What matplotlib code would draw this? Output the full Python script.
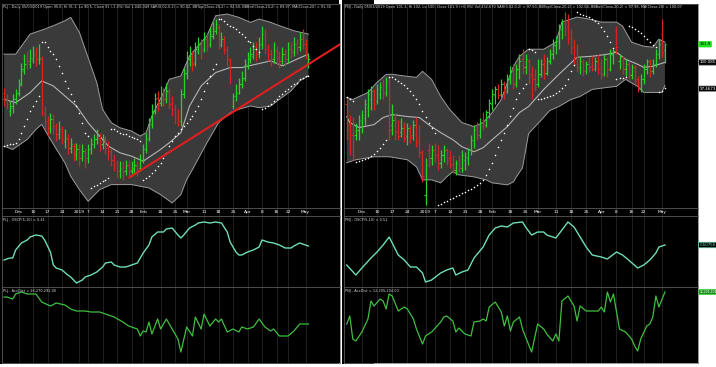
import numpy as np
import pandas as pd
import matplotlib
matplotlib.use("Agg")
import matplotlib.pyplot as plt
from matplotlib.patches import Rectangle
from matplotlib.transforms import blended_transform_factory

plt.rcParams['font.family'] = ['Liberation Sans Narrow', 'DejaVu Sans']

# trading days 26 Nov 2018 - 3 May 2019 (exchange holidays removed)
holidays = ['2019-01-01', '2019-02-04', '2019-02-05', '2019-02-06', '2019-02-07',
            '2019-02-08', '2019-04-15', '2019-04-30', '2019-05-01']
dates = pd.bdate_range('2018-11-26', '2019-05-03')
dates = dates[~dates.isin(pd.to_datetime(holidays))]

# ---------------- PLJ (left chart) ----------------
plj_open = [89.0, 88.6, 87.9, 88.2, 88.6, 89.0, 89.6, 90.3, 91.1, 90.7,
            91.0, 91.4, 91.0, 91.0, 87.8, 87.3, 86.9, 87.4, 86.9, 86.5,
            86.7, 86.1, 86.2, 85.7, 85.8, 85.3, 85.6, 85.1, 85.4, 85.1,
            85.6, 85.9, 86.2, 86.3, 85.9, 86.1, 85.8, 85.4, 85.0, 84.8,
            84.3, 84.6, 84.3, 84.7, 84.3, 84.4, 84.6, 84.5, 85.0, 85.6,
            86.3, 87.1, 87.9, 88.7, 88.4, 89.0, 88.6, 89.0, 88.4, 88.0,
            87.6, 87.3, 88.9, 90.2, 91.0, 91.2, 90.8, 91.5, 91.9, 91.6,
            92.2, 91.9, 92.4, 92.7, 92.9, 91.9, 92.1, 91.5, 90.9, 88.2,
            88.8, 89.0, 89.5, 89.9, 90.6, 91.0, 91.2, 91.7, 91.3, 91.9,
            92.4, 91.6, 91.3, 91.0, 91.5, 91.2, 90.9, 91.3, 91.0, 91.6,
            91.4, 91.9, 91.7, 92.2, 91.9, 90.8]
plj_high = [89.3, 88.9, 88.5, 88.9, 89.2, 89.8, 90.8, 91.3, 91.5, 91.6,
            91.8, 91.7, 91.9, 91.2, 88.2, 87.6, 87.8, 87.7, 87.2, 87.3,
            87.0, 86.8, 86.5, 86.3, 86.0, 86.0, 85.9, 85.9, 85.7, 85.9,
            86.3, 86.5, 86.8, 86.6, 86.5, 86.4, 86.1, 85.7, 85.3, 85.0,
            84.9, 84.9, 85.0, 85.0, 84.9, 85.1, 84.9, 85.3, 85.9, 86.6,
            87.5, 88.3, 89.0, 89.1, 89.4, 89.3, 89.6, 89.3, 88.8, 88.3,
            88.0, 89.2, 90.5, 91.5, 91.8, 91.5, 92.0, 92.3, 92.2, 92.6,
            92.5, 92.9, 93.2, 93.4, 93.1, 92.6, 92.4, 91.8, 91.1, 89.0,
            89.5, 89.9, 90.3, 91.0, 91.4, 91.7, 92.0, 92.0, 92.3, 93.0,
            92.8, 91.9, 91.6, 92.0, 91.8, 91.5, 91.7, 91.6, 92.0, 92.0,
            92.3, 92.2, 92.6, 92.8, 92.2, 91.3]
plj_low = [88.2, 88.0, 87.6, 87.8, 88.3, 88.8, 89.4, 90.1, 90.4, 90.5,
           90.8, 90.6, 90.7, 87.6, 86.8, 86.4, 86.6, 86.5, 86.1, 86.2,
           85.9, 85.7, 85.3, 85.4, 84.9, 85.0, 84.6, 84.9, 84.5, 84.8,
           85.3, 85.7, 85.9, 85.5, 85.6, 85.3, 85.0, 84.6, 84.3, 83.9,
           83.9, 83.8, 84.1, 84.0, 84.0, 84.2, 84.0, 84.3, 84.8, 85.4,
           86.1, 86.9, 87.7, 87.9, 88.2, 88.2, 88.4, 88.0, 87.6, 87.1,
           87.0, 87.0, 88.7, 89.8, 90.6, 90.3, 90.6, 91.3, 91.0, 91.4,
           91.5, 91.7, 92.2, 92.5, 91.6, 91.7, 91.3, 90.6, 89.5, 88.0,
           88.5, 88.9, 89.3, 89.7, 90.4, 90.8, 91.0, 90.9, 91.1, 91.6,
           91.3, 90.9, 90.6, 90.8, 90.7, 90.5, 90.7, 90.6, 90.8, 91.1,
           91.2, 91.3, 91.5, 91.6, 91.0, 90.5]
plj_close = [88.6, 88.3, 88.1, 88.7, 88.9, 89.5, 90.4, 90.7, 90.9, 91.1,
             91.3, 91.0, 91.1, 87.9, 87.2, 86.9, 87.4, 87.0, 86.5, 86.8,
             86.2, 86.3, 85.7, 85.9, 85.3, 85.6, 85.1, 85.5, 85.0, 85.6,
             85.9, 86.2, 86.4, 85.9, 86.2, 85.7, 85.5, 85.0, 84.7, 84.4,
             84.5, 84.3, 84.7, 84.4, 84.5, 84.7, 84.4, 85.0, 85.6, 86.2,
             87.1, 87.9, 88.6, 88.3, 88.9, 88.6, 89.1, 88.3, 88.0, 87.5,
             87.3, 88.9, 90.1, 91.0, 91.3, 90.7, 91.6, 91.9, 91.5, 92.2,
             91.9, 92.5, 92.8, 93.1, 91.9, 92.2, 91.6, 91.0, 89.8, 88.8,
             89.0, 89.5, 89.8, 90.7, 91.0, 91.3, 91.6, 91.3, 91.9, 92.5,
             91.6, 91.3, 91.0, 91.6, 91.1, 90.9, 91.3, 91.0, 91.6, 91.5,
             91.9, 91.7, 92.2, 91.9, 91.3, 91.0]
plj_sar = [85.8, 85.85, 85.9, 85.95, 86.0, 86.2, 86.6, 87.0, 87.4, 87.9, 88.2, 88.5, 88.8,
           92.0, 92.0, 91.7, 91.5, 91.3, 91.0, 90.6, 90.2, 89.7, 89.3, 88.9, 88.5, 88.2,
           87.8, 87.2, 86.6, 86.4,
           83.3, 83.4, 83.5, 83.6, 83.7, 83.8, 83.9,
           86.8, 86.8, 86.7, 86.6, 86.55, 86.5, 86.4, 86.35, 86.3, 86.2, 86.1,
           83.8, 83.9, 84.0, 84.2, 84.4, 84.6, 84.8, 85.1, 85.4, 85.8, 86.1, 86.4, 86.6,
           86.8, 87.0, 87.2, 87.4, 87.6, 87.9, 88.2, 88.6, 89.1, 89.6, 90.0, 90.4, 90.7,
           93.4, 93.4, 93.3, 93.1, 93.0, 92.9, 92.8, 92.6, 92.5, 92.3, 92.1, 92.0, 91.8,
           91.6, 91.4,
           88.0, 88.1, 88.2, 88.3, 88.5, 88.6, 88.8, 88.9, 89.1, 89.2, 89.4, 89.5, 89.6,
           89.8, 89.9, 90.0, 90.0]
plj_bbtop_idx = [0, 4, 9, 14, 17, 21, 23, 26, 28, 32, 34, 37, 40, 44, 47, 49, 51, 55, 57, 61,
                 64, 70, 73, 77, 81, 85, 88, 92, 95, 100, 105]
plj_bbtop = [91.3, 91.3, 92.5, 92.8, 93.0, 93.3, 93.5, 92.6, 91.6, 89.6,
             88.0, 87.2, 86.9, 86.7, 86.4, 86.6, 87.6, 89.0, 89.8, 90.0,
             91.2, 92.4, 93.6, 93.7, 93.5, 93.2, 93.4, 93.2, 93.0, 92.7, 92.5]
plj_ma_idx = [0, 4, 9, 13, 17, 21, 25, 29, 33, 36, 40, 44, 48, 54, 57, 61, 64, 68, 73, 78,
              82, 87, 92, 96, 101, 105]
plj_ma = [88.6, 88.4, 89.0, 89.7, 89.4, 88.8, 88.2, 87.2, 86.4, 85.8,
          85.4, 85.2, 84.9, 85.6, 86.0, 86.6, 88.2, 89.4, 90.2, 90.5,
          90.5, 90.7, 90.9, 90.6, 91.0, 91.3]
plj_bbbot_idx = [0, 3, 8, 11, 13, 16, 21, 23, 26, 29, 33, 37, 44, 50, 54, 58, 61, 63, 65, 70,
                 72, 74, 78, 81, 85, 88, 92, 95, 99, 102, 105]
plj_bbbot = [85.8, 85.6, 86.2, 86.8, 87.1, 86.2, 84.8, 84.0, 83.2, 82.5,
             83.2, 83.5, 83.5, 83.3, 82.9, 82.4, 82.9, 83.8, 84.4, 86.0,
             86.6, 87.2, 87.8, 88.0, 88.2, 88.1, 88.2, 88.6, 89.1, 89.7, 90.0]
plj_osc_idx = [0, 2, 3, 4, 6, 8, 9, 11, 13, 14, 16, 17, 18, 20, 22, 23, 24, 25, 27, 28,
               30, 32, 34, 35, 37, 38, 40, 42, 44, 46, 48, 50, 51, 53, 55, 56, 58, 60, 61, 62,
               64, 66, 67, 69, 71, 73, 75, 77, 78, 80, 81, 82, 84, 86, 88, 89, 91, 93, 95, 97,
               99, 100, 102, 104, 105]
plj_osc = [-0.29, -0.19, -0.19, 0.21, 0.56, 0.71, 0.86, 0.96, 0.91, 0.71,
           0.11, -0.54, -0.69, -0.79, -1.04, -1.14, -1.29, -1.44, -1.29, -1.14,
           -1.04, -0.89, -0.64, -0.44, -0.39, -0.54, -0.64, -0.64, -0.54, -0.44,
           0.06, 0.46, 0.86, 1.11, 1.11, 1.26, 1.31, 0.96, 0.81, 0.96,
           1.31, 1.46, 1.56, 1.61, 1.56, 1.61, 1.56, 1.11, 0.61, 0.11,
           -0.04, -0.04, 0.11, 0.21, 0.36, 0.71, 0.61, 0.56, 0.46, 0.31,
           0.31, 0.41, 0.56, 0.46, 0.41]
# accumulation / distribution, millions
plj_ad_idx = [0, 1, 3, 4, 6, 8, 10, 11, 13, 16, 18, 21, 23, 25, 28, 30, 33, 35, 38, 41,
              43, 46, 47, 48, 49, 50, 51, 53, 54, 56, 58, 60, 61, 63, 65, 66, 68, 69, 71, 73,
              74, 75, 77, 79, 81, 82, 84, 86, 88, 90, 92, 93, 95, 98, 100, 102, 105]
plj_ad = [31.67, 31.67, 31.27, 32.27, 32.67, 32.27, 32.27, 32.27, 30.67, 29.87,
          30.47, 30.07, 29.27, 28.87, 28.87, 28.67, 28.67, 28.27, 27.67, 26.67,
          25.87, 25.27, 23.87, 24.87, 24.67, 26.67, 24.27, 27.27, 25.27, 27.27,
          25.27, 23.27, 20.67, 25.67, 23.87, 27.67, 25.27, 28.27, 25.87, 27.27,
          26.67, 27.27, 24.67, 25.27, 24.67, 25.67, 25.27, 25.67, 27.27, 25.67,
          24.87, 25.27, 23.87, 23.87, 24.87, 26.27, 26.27]
plj_trend_idx = [43, 116]
plj_trend = [83.9, 91.9]

# ---------------- PNJ (right chart) ----------------
pnj_open = [95.9, 93.9, 92.9, 92.9, 93.4, 94.2, 94.6, 95.6, 96.4, 97.2,
            96.2, 96.9, 97.8, 97.1, 98.0, 93.9, 94.6, 93.4, 93.2, 93.6,
            92.8, 93.4, 92.9, 93.9, 92.4, 91.2, 86.9, 91.4, 90.6, 91.4,
            90.9, 90.1, 90.9, 91.4, 90.6, 90.0, 89.4, 90.4, 89.6, 90.4,
            90.6, 91.4, 92.4, 93.6, 92.9, 94.4, 93.9, 95.2, 95.9, 96.8,
            97.4, 96.9, 98.0, 97.2, 98.4, 99.4, 98.0, 99.4, 100.4, 99.6,
            100.2, 98.9, 98.4, 97.9, 98.9, 99.9, 99.0, 100.2, 100.9, 101.8,
            102.2, 103.4, 104.2, 103.6, 102.6, 101.6, 100.6, 99.6, 100.2, 99.2,
            100.1, 99.8, 99.4, 100.2, 99.6, 98.9, 100.4, 99.4, 100.8, 103.4,
            100.2, 100.6, 99.4, 99.9, 98.8, 99.6, 98.4, 97.4, 98.4, 99.4,
            100.2, 99.2, 99.9, 100.9, 102.9, 101.3]
pnj_high = [96.4, 94.9, 94.7, 94.1, 94.9, 95.4, 96.4, 97.4, 97.7, 97.4,
            97.9, 98.1, 98.4, 98.6, 98.6, 95.9, 95.1, 94.4, 94.6, 94.2,
            94.1, 93.9, 94.4, 94.7, 93.9, 91.4, 90.6, 92.1, 91.9, 92.1,
            91.9, 91.4, 91.9, 91.6, 91.4, 90.9, 90.4, 90.9, 91.4, 91.2,
            91.6, 92.9, 93.9, 94.2, 94.6, 95.2, 95.4, 96.4, 97.4, 97.7,
            97.9, 98.4, 98.2, 98.9, 99.7, 99.9, 99.9, 100.9, 101.4, 100.9,
            100.4, 99.7, 99.4, 100.4, 100.4, 100.9, 100.6, 101.4, 102.4, 102.7,
            103.9, 104.4, 105.1, 104.9, 103.4, 102.4, 101.9, 100.6, 100.4, 100.2,
            100.6, 100.7, 100.6, 100.9, 100.4, 100.9, 100.6, 101.4, 101.4, 103.7,
            100.9, 100.7, 100.4, 100.2, 99.9, 99.8, 98.7, 98.9, 99.9, 100.4,
            100.4, 100.4, 101.4, 102.4, 104.4, 102.0]
pnj_low = [92.4, 90.9, 90.4, 92.4, 92.4, 93.1, 93.9, 94.7, 95.4, 95.4,
           95.9, 96.4, 96.4, 96.7, 92.4, 92.9, 92.4, 92.4, 92.7, 92.2,
           91.9, 92.1, 92.4, 91.7, 90.7, 88.2, 85.9, 89.7, 89.9, 90.2,
           89.4, 89.6, 90.2, 89.9, 89.6, 89.1, 88.9, 89.2, 89.2, 89.4,
           89.9, 90.9, 91.6, 92.4, 92.6, 93.4, 93.7, 94.6, 95.4, 95.9,
           96.4, 96.6, 96.4, 97.0, 97.9, 97.4, 97.6, 98.4, 98.9, 98.9,
           97.9, 96.4, 97.2, 97.6, 98.6, 98.4, 98.8, 99.9, 100.4, 100.9,
           101.4, 102.4, 102.7, 101.9, 100.9, 99.7, 99.1, 98.9, 98.7, 98.9,
           99.1, 99.2, 99.2, 98.9, 98.4, 98.7, 98.6, 99.2, 99.9, 100.9,
           99.4, 98.9, 98.7, 98.4, 98.4, 97.7, 97.1, 97.1, 97.9, 98.9,
           98.6, 98.9, 99.6, 100.4, 100.6, 100.0]
pnj_close = [93.4, 91.4, 90.9, 93.9, 94.4, 94.9, 95.9, 96.9, 97.2, 95.9,
             97.4, 97.6, 96.9, 98.2, 93.4, 94.4, 93.2, 92.8, 93.6, 92.6,
             93.6, 92.7, 93.9, 92.2, 91.2, 88.8, 89.9, 90.2, 91.4, 90.6,
             89.9, 90.9, 91.4, 90.4, 89.9, 89.4, 90.1, 89.6, 90.9, 90.7,
             91.4, 92.4, 93.4, 92.9, 94.2, 93.9, 95.2, 96.0, 96.9, 97.4,
             96.8, 97.9, 97.1, 98.4, 99.2, 97.9, 99.4, 100.2, 99.6, 100.4,
             98.6, 96.9, 97.6, 98.9, 99.9, 98.9, 100.2, 100.9, 101.9, 102.2,
             103.4, 104.2, 103.4, 102.4, 101.4, 100.4, 99.9, 100.2, 99.2, 99.9,
             99.6, 99.4, 100.2, 99.4, 98.9, 100.4, 99.4, 100.9, 101.2, 101.6,
             100.6, 99.4, 99.9, 98.9, 99.6, 98.2, 97.4, 98.4, 99.4, 100.2,
             99.2, 99.9, 100.9, 101.9, 101.0, 101.9]
pnj_sar = [96.6, 96.4, 96.2,
           90.2, 90.3, 90.4, 90.5, 90.6, 90.8, 91.0, 91.3, 91.6, 92.0, 92.4,
           98.6, 98.6, 98.4, 98.2, 98.0, 97.8, 97.5, 97.2, 96.8, 96.4, 95.9, 95.3, 94.7,
           94.1, 93.6, 93.1,
           85.9, 86.0, 86.2, 86.3, 86.5, 86.6, 86.8, 86.9, 87.1, 87.2, 87.4, 87.5, 87.7,
           87.9, 88.1, 88.4, 88.9, 89.5, 90.1, 90.9, 91.7, 92.4, 93.1, 93.9, 94.8, 95.6,
           96.4, 97.0, 97.5, 97.9,
           101.4, 101.3, 101.1,
           96.4, 96.4, 96.5, 96.6, 96.7, 96.8, 97.0, 97.2, 97.5, 97.8, 98.4, 99.2, 99.8,
           105.1, 104.9, 104.8, 104.7, 104.6, 104.4, 104.2, 104.0, 103.6, 103.2, 102.7,
           102.1, 101.5,
           98.4, 98.5, 98.5, 98.6,
           103.7, 103.6, 103.4, 103.2, 103.0, 102.7, 102.4, 102.1, 101.8, 101.6,
           97.1, 97.2, 97.5]
pnj_bbtop_idx = [0, 2, 7, 10, 13, 15, 20, 23, 25, 28, 31, 34, 38, 42, 45, 48, 51, 53, 55, 57,
                 60, 65, 69, 71, 76, 80, 84, 89, 91, 94, 98, 101, 103, 105]
pnj_bbtop = [96.6, 96.4, 97.1, 98.1, 98.9, 98.9, 98.7, 98.6, 99.2, 98.4,
             96.7, 95.4, 94.1, 93.7, 94.1, 95.1, 96.4, 98.1, 99.7, 100.7,
             101.4, 101.4, 102.1, 104.1, 104.6, 104.4, 104.1, 104.1, 103.7, 102.1,
             101.7, 101.6, 102.4, 102.1]
pnj_ma_idx = [0, 1, 4, 9, 12, 15, 20, 24, 27, 31, 35, 38, 42, 45, 48, 53, 57, 60, 65, 70,
              76, 81, 86, 89, 92, 96, 98, 101, 105]
pnj_ma = [94.7, 94.1, 93.6, 93.9, 94.6, 94.9, 94.7, 94.6, 93.9, 93.1,
          92.4, 91.7, 91.2, 91.6, 92.4, 93.7, 95.1, 95.7, 97.4, 98.9,
          100.6, 100.7, 100.9, 101.1, 100.4, 99.9, 99.6, 99.7, 100.1]
pnj_bbbot_idx = [0, 3, 9, 14, 20, 23, 25, 28, 31, 33, 35, 37, 42, 46, 48, 53, 55, 56, 58, 60,
                 64, 67, 70, 74, 77, 81, 86, 89, 92, 96, 98, 101, 104, 105]
pnj_bbbot = [90.1, 90.4, 90.7, 90.7, 90.4, 89.7, 88.4, 88.4, 88.1, 88.7,
             89.2, 88.9, 88.7, 88.4, 88.1, 87.9, 88.2, 88.7, 89.6, 93.0,
             94.3, 95.3, 95.7, 96.4, 96.7, 97.4, 97.6, 97.7, 98.4, 97.7,
             97.1, 97.1, 97.1, 97.8]
pnj_osc_idx = [0, 3, 5, 8, 10, 12, 14, 15, 17, 19, 21, 23, 25, 26, 28, 31, 33, 35, 36, 38,
               40, 42, 45, 47, 49, 51, 53, 55, 58, 59, 61, 63, 65, 66, 69, 71, 73, 75, 77, 79,
               81, 84, 86, 89, 91, 93, 96, 98, 100, 102, 103, 105]
pnj_osc = [-0.49, -0.99, -0.64, -0.14, 0.16, 0.51, 0.91, 0.61, 0.01, -0.24,
           -0.59, -0.59, -0.89, -1.34, -1.24, -0.89, -0.74, -0.64, -0.99, -0.84,
           -0.74, -0.14, 0.41, 1.01, 1.36, 1.46, 1.41, 1.61, 1.66, 1.41,
           1.01, 1.16, 1.16, 1.01, 0.86, 1.26, 1.66, 1.41, 0.91, 0.41,
           0.01, -0.09, -0.19, 0.16, 0.01, -0.24, -0.64, -0.49, -0.24, 0.11,
           0.41, 0.51]
pnj_ad_idx = [0, 1, 2, 3, 5, 7, 8, 9, 11, 12, 13, 14, 15, 17, 19, 20, 22, 23, 25, 26,
              28, 31, 32, 33, 35, 36, 37, 39, 41, 42, 44, 45, 46, 47, 49, 51, 52, 53, 54, 55,
              57, 58, 59, 61, 63, 65, 66, 68, 69, 70, 71, 73, 75, 76, 77, 79, 81, 83, 84, 85,
              86, 87, 88, 90, 92, 94, 95, 96, 97, 99, 100, 101, 102, 103, 105]
pnj_ad = [5.81, 7.41, 2.81, 2.41, 4.21, 6.81, 10.41, 9.41, 10.81, 10.41,
          8.81, 11.81, 11.41, 8.41, 9.21, 8.81, 6.81, 4.81, 1.81, 3.41,
          4.21, 6.21, 7.21, 7.41, 6.41, 4.21, 5.01, 3.81, 3.41, 6.21,
          6.41, 6.81, 6.41, 9.21, 10.21, 8.21, 5.41, 7.41, 4.41, 6.21,
          7.21, 4.81, 3.21, 0.21, 5.81, 4.81, 3.81, 2.41, 3.81, 2.41,
          10.41, 11.41, 9.41, 6.41, 9.41, 8.41, 8.41, 8.41, 9.21, 8.21,
          12.21, 10.21, 11.81, 4.81, 4.21, 2.81, 1.41, 0.41, 2.81, 5.41,
          5.81, 7.21, 11.41, 9.21, 12.21]

plj_head = ("PLJ - Daily 05/03/2019 Open 90.8, Hi 91.3, Lo 90.5, Close 91 (-1.0%) Vol 1,040,049 "
            "SAR(0.02,0.2) = 90.02, BBTop(Close,20,2) = 92.50, BBBot(Close,20,2) = 89.97, MA(Close,20) = 91.30")
pnj_head = ("PNJ - Daily 05/03/2019 Open 101.3, Hi 102, Lo 100, Close 101.9 (+0.9%) Vol 432,670 "
            "SAR(0.02,0.2) = 97.50, BBTop(Close,20,2) = 102.04, BBBot(Close,20,2) = 97.98, MA(Close,20) = 100.07")

# ---------------- drawing ----------------
W, H = 716, 367
UP, DN = '#27d327', '#d42424'
OSC_C, AD_C = '#6fdcb8', '#3fbf3f'
GRID, EDGE = '#2c2c2c', '#6a6a6a'
TXT = 3.2


def px_box(l, t, r, b):
    return [l / W, 1 - b / H, (r - l) / W, (b - t) / H]


# weekly / monthly date ticks (month and year labels win when crowded)
ticks = []
for i in range(1, len(dates)):
    d, p = dates[i], dates[i - 1]
    new_week = d.weekday() < p.weekday()
    if d.year != p.year:
        ticks.append((i, str(d.year), True))
    elif d.month != p.month:
        ticks.append((i, d.strftime('%b'), True))
    elif new_week:
        ticks.append((i, str(d.day), False))
kept = []
for t in ticks:
    if kept and t[0] - kept[-1][0] < 3:
        if t[2] and not kept[-1][2]:
            kept[-1] = t
        continue
    kept.append(t)
tick_idx = [t[0] for t in kept]
tick_lbl = [t[1] for t in kept]

fig = plt.figure(figsize=(W / 100, H / 100), dpi=100, facecolor='white')


def style(ax, xlim):
    ax.set_facecolor('black')
    ax.set_xlim(*xlim)
    ax.set_xticks([])
    ax.set_yticks([])
    for s in ax.spines.values():
        s.set_color(EDGE)
        s.set_linewidth(0.5)
    for t in tick_idx:
        ax.axvline(t, color=GRID, lw=0.5, zorder=0)


def draw_panel(l, r, xlim, ylim, o, h, lo, c, sar, top_i, top, ma_i, ma, bot_i, bot,
               osc_i, osc, osc_lim, ad_i, ad, ad_lim, head, name, ad_text, trend=None):
    fig.add_artist(Rectangle((l / W, 3 / H), (r[1] - l) / W, 364 / H, transform=fig.transFigure,
                             facecolor='black', edgecolor='none', zorder=-5))
    x1 = r[0]
    ax = fig.add_axes(px_box(l + 2, 4, x1, 208))
    style(ax, xlim)
    ax.set_ylim(*ylim)
    ax.fill(np.r_[top_i, bot_i[::-1]], np.r_[top, bot[::-1]], color='#3a3a3a', lw=0, zorder=1)
    ax.plot(top_i, top, color='#9c9c9c', lw=0.7, zorder=2)
    ax.plot(bot_i, bot, color='#9c9c9c', lw=0.7, zorder=2)
    ax.plot(ma_i, ma, color='#b4b4b4', lw=0.8, zorder=2)
    xs = np.arange(len(c))
    o, h, lo, c = map(np.asarray, (o, h, lo, c))
    col = np.where(c >= o, UP, DN)
    ax.vlines(xs, lo, h, colors=col, lw=0.9, zorder=3)
    ax.hlines(o, xs - 0.45, xs, colors=col, lw=0.8, zorder=3)
    ax.hlines(c, xs, xs + 0.45, colors=col, lw=0.8, zorder=3)
    ax.scatter(xs, sar, s=1.3, c='white', lw=0, zorder=4)
    if trend is not None:
        ax.plot(trend[0], trend[1], color='#e01e1e', lw=1.5, zorder=5, solid_capstyle='butt')
    ax.text(0.004, 0.995, head, transform=ax.transAxes, ha='left', va='top',
            fontsize=2.5, color='#d8d8d8')

    axd = fig.add_axes(px_box(l + 2, 208, x1, 216))
    style(axd, xlim)
    axd.set_ylim(0, 1)
    for t, s in zip(tick_idx, tick_lbl):
        axd.text(t, 0.45, s, ha='center', va='center', fontsize=TXT, color='white')

    axo = fig.add_axes(px_box(l + 2, 216, x1, 287))
    style(axo, xlim)
    axo.set_ylim(*osc_lim)
    axo.plot(osc_i, osc, color=OSC_C, lw=1.0)
    axo.text(0.004, 0.97, f"{name} - OSCP(5,10) = {osc[-1]:.2f}", transform=axo.transAxes,
             ha='left', va='top', fontsize=2.5, color='#d8d8d8')

    axa = fig.add_axes(px_box(l + 2, 287, x1, 363))
    style(axa, xlim)
    axa.set_ylim(*ad_lim)
    axa.plot(ad_i, ad, color=AD_C, lw=0.9)
    axa.text(0.004, 0.97, f"{name} - AccDist = {ad_text}", transform=axa.transAxes,
             ha='left', va='top', fontsize=2.5, color='#d8d8d8')
    return ax, axo, axa


a1 = draw_panel(0, (340, 339), (-0.7, 115.9), (82.1, 94.3), plj_open, plj_high, plj_low,
                plj_close, plj_sar, plj_bbtop_idx, plj_bbtop, plj_ma_idx, plj_ma,
                plj_bbbot_idx, plj_bbbot, plj_osc_idx, plj_osc, (-1.64, 1.91),
                plj_ad_idx, plj_ad, (18.47, 33.67), plj_head, 'PLJ', '26,270,292.00',
                trend=(plj_trend_idx, plj_trend))
a2 = draw_panel(342, (698, 374), (-0.9, 115.9), (85.6, 105.9), pnj_open, pnj_high, pnj_low,
                pnj_close, pnj_sar, pnj_bbtop_idx, pnj_bbtop, pnj_ma_idx, pnj_ma,
                pnj_bbbot_idx, pnj_bbbot, pnj_osc_idx, pnj_osc, (-1.59, 1.96),
                pnj_ad_idx, pnj_ad, (-1.99, 13.21), pnj_head, 'PNJ', '12,205,204.00')

# value flags on the right axis of the PNJ chart
ax, axo, axa = a2


def flag(a, y, s, face, fg, edge, size=2.9):
    tr = blended_transform_factory(a.transAxes, a.transData)
    a.text(1.004, y, s, transform=tr, ha='left', va='center', fontsize=size, color=fg,
           clip_on=False, bbox=dict(boxstyle='round,pad=0.2', fc=face, ec=edge, lw=0.5))


flag(ax, pnj_close[-1], '101.9', '#22e022', 'black', '#22e022')
flag(ax, 100.085, '100.085', 'black', 'white', '#9a9a9a')
flag(ax, 97.4673, '97.4673', 'black', 'white', '#9a9a9a')
flag(axo, pnj_osc[-1], '0.50756', 'black', OSC_C, OSC_C)
flag(axa, pnj_ad[-1], '12,205,204', '#1f8f1f', 'white', '#3fdf3f', size=2.2)

fig.savefig('out.png', dpi=100, facecolor='white')
